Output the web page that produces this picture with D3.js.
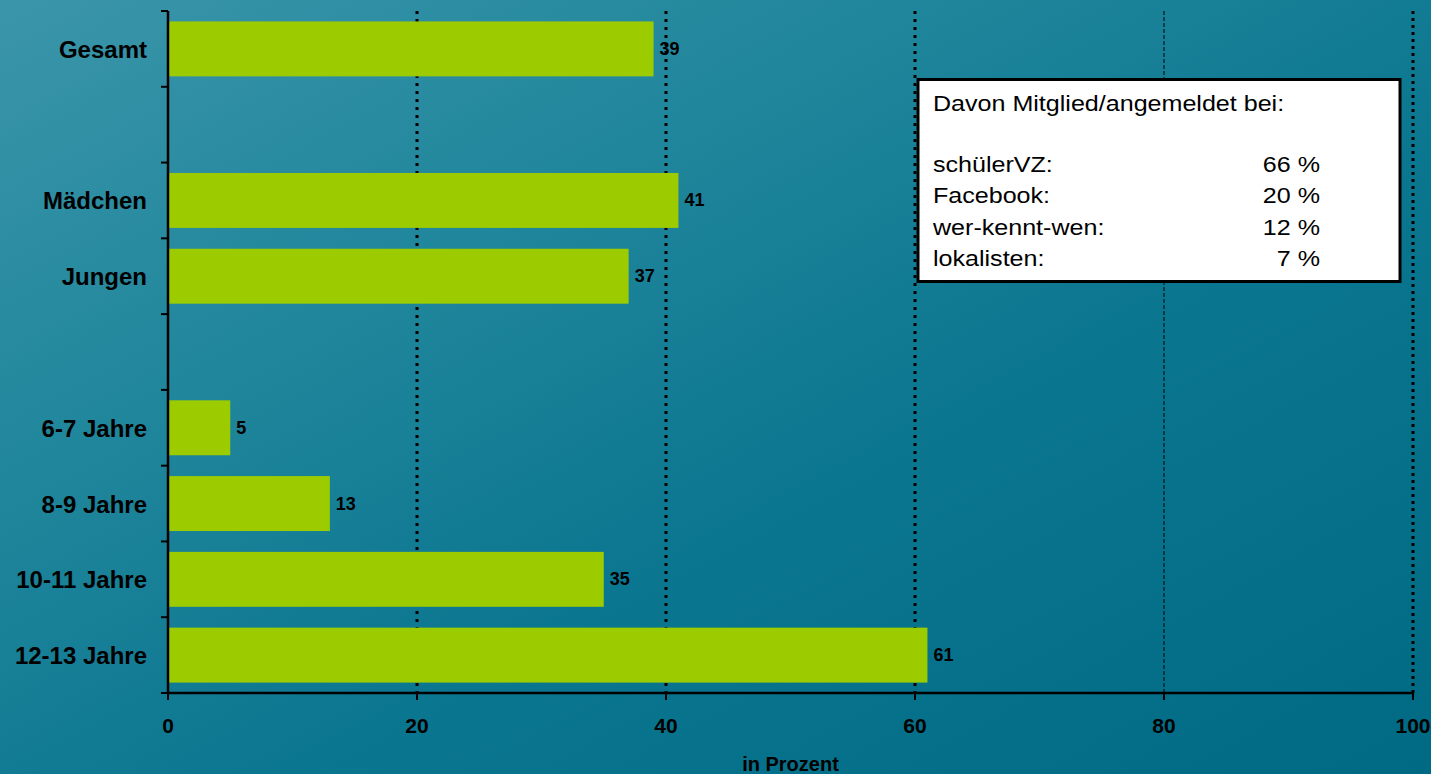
<!DOCTYPE html>
<html>
<head>
<meta charset="utf-8">
<script src="https://cdn.jsdelivr.net/npm/d3@7/dist/d3.min.js"></script>
<style>
html,body{margin:0;padding:0;overflow:hidden;background:#1a8197;}
svg{display:block;font-family:"Liberation Sans",Arial,Helvetica,sans-serif;}
</style>
</head>
<body>
<svg id="chart" width="1431" height="774"></svg>
<script>
// ---- data ----
const categories = ["Gesamt", "", "Mädchen", "Jungen", "", "6-7 Jahre", "8-9 Jahre", "10-11 Jahre", "12-13 Jahre"];
const values = [39, null, 41, 37, null, 5, 13, 35, 61];
const xTicks = [0, 20, 40, 60, 80, 100];
const axisTitle = "in Prozent";
const legendTitle = "Davon Mitglied/angemeldet bei:";
const legendNetworks = ["schülerVZ:", "Facebook:", "wer-kennt-wen:", "lokalisten:"];
const legendShares = [66, 20, 12, 7];

// ---- setup ----
const W = 1431, H = 774;
const svg = d3.select("#chart");
const defs = svg.append("defs");
const grad = defs.append("linearGradient").attr("id", "bg")
  .attr("x1", "0").attr("y1", "0").attr("x2", "1").attr("y2", "1");
[[0, "#3b95aa"], [0.3, "#21879c"], [0.6, "#0b7690"], [1, "#006a85"]].forEach(s =>
  grad.append("stop").attr("offset", s[0]).attr("stop-color", s[1]));
svg.append("rect").attr("width", W).attr("height", H).attr("fill", "url(#bg)");

const x = d3.scaleLinear().domain([0, 100]).range([168, 1413]);
const idx = d3.range(categories.length);
const pInner = 0.275;
const y = d3.scaleBand().domain(idx).range([11, 693]).paddingInner(pInner).paddingOuter(pInner / 2);

// gridlines
const gridStyle = {20: {w: 3, d: "3,5"}, 40: {w: 3, d: "3,5"}, 60: {w: 3, d: "3,5"}, 80: {w: 1, d: "4,2"}, 100: {w: 3, d: "3,4"}};
svg.append("g").selectAll("line").data(xTicks.filter(t => t > 0)).join("line")
  .attr("x1", d => x(d)).attr("x2", d => x(d))
  .attr("y1", 11).attr("y2", 693)
  .attr("stroke", "#000")
  .attr("stroke-width", d => gridStyle[d].w)
  .attr("stroke-dasharray", d => gridStyle[d].d);

// bars
const barData = idx.filter(i => values[i] != null);
svg.append("g").selectAll("rect").data(barData).join("rect")
  .attr("x", x(0) + 1)
  .attr("y", i => y(i))
  .attr("width", i => x(values[i]) - x(0) - 1)
  .attr("height", y.bandwidth())
  .attr("fill", "#9ccc00");

// value labels
svg.append("g").selectAll("text").data(barData).join("text")
  .attr("x", i => x(values[i]) + 6)
  .attr("y", i => y(i) + y.bandwidth() / 2 + 6)
  .attr("font-size", 18).attr("font-weight", "bold").attr("fill", "#000")
  .text(i => values[i]);

// y axis line & ticks at band boundaries
const step = y.step();
const boundaries = d3.range(categories.length + 1).map(k => 11 + k * step);
svg.append("line").attr("x1", x(0)).attr("x2", x(0)).attr("y1", 11).attr("y2", 694)
  .attr("stroke", "#000").attr("stroke-width", 2.5);
svg.append("g").selectAll("line").data(boundaries).join("line")
  .attr("x1", x(0) - 7).attr("x2", x(0)).attr("y1", d => d).attr("y2", d => d)
  .attr("stroke", "#000").attr("stroke-width", 2);

// category labels
svg.append("g").selectAll("text").data(idx.filter(i => categories[i] !== "")).join("text")
  .attr("x", x(0) - 21)
  .attr("y", i => y(i) + y.bandwidth() / 2 + 9)
  .attr("text-anchor", "end")
  .attr("font-size", 24).attr("font-weight", "bold").attr("fill", "#000")
  .text(i => categories[i]);

// x axis
svg.append("line").attr("x1", x(0) - 1).attr("x2", x(100) + 1).attr("y1", 693).attr("y2", 693)
  .attr("stroke", "#000").attr("stroke-width", 2.5);
svg.append("g").selectAll("line").data(xTicks).join("line")
  .attr("x1", d => x(d)).attr("x2", d => x(d)).attr("y1", 693).attr("y2", 700)
  .attr("stroke", "#000").attr("stroke-width", 2);
svg.append("g").selectAll("text").data(xTicks).join("text")
  .attr("x", d => x(d)).attr("y", 733)
  .attr("text-anchor", "middle")
  .attr("font-size", 21).attr("font-weight", "bold").attr("fill", "#000")
  .text(d => d);
svg.append("text").attr("x", (x(0) + x(100)) / 2).attr("y", 771)
  .attr("text-anchor", "middle").attr("font-size", 20).attr("font-weight", "bold").attr("fill", "#000")
  .text(axisTitle);

// legend box
svg.append("rect").attr("x", 918).attr("y", 79.5).attr("width", 482).attr("height", 202)
  .attr("fill", "#fff").attr("stroke", "#000").attr("stroke-width", 3);
const lg = svg.append("g").attr("font-size", 22).attr("fill", "#000");
lg.append("text").attr("transform", "translate(933,111) scale(1.14,1)").text(legendTitle);
lg.selectAll("text.name").data(legendNetworks).join("text").attr("class", "name")
  .attr("transform", (d, i) => `translate(933,${172 + i * 31.3}) scale(1.14,1)`)
  .text(d => d);
lg.selectAll("text.val").data(legendShares).join("text").attr("class", "val")
  .attr("text-anchor", "end")
  .attr("transform", (d, i) => `translate(1320,${172 + i * 31.3}) scale(1.14,1)`)
  .text(d => d + " %");
</script>
</body>
</html>
